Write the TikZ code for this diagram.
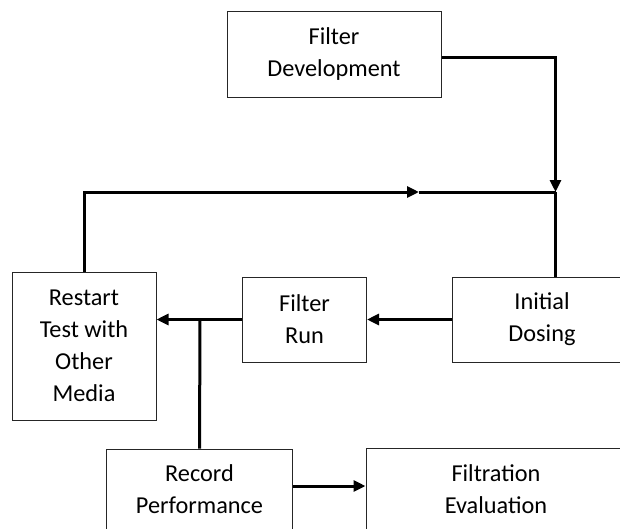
\documentclass[tikz,border=0pt]{standalone}
\usepackage{fontspec}
\setmainfont{Carlito}
\usetikzlibrary{arrows.meta}
\begin{document}
\begin{tikzpicture}[x=1pt,y=-1pt,
  box/.style={draw=black!85,line width=1pt,rectangle,inner sep=0pt,align=center,
    font=\fontsize{24.3}{32}\selectfont},
  conn/.style={line width=3pt,black},
  arr/.style={conn,-{Triangle[length=12pt,width=11pt]}}]
\useasboundingbox (0,0) rectangle (620,528);
\clip (0,0) rectangle (620,528);
\fill[white] (0,0) rectangle (620,528);
\node[box,minimum width=214,minimum height=86] (dev) at (334,54) {Filter\\Development};
\node[box,minimum width=144,minimum height=148] (restart) at (84,346) {Restart\\Test with\\Other\\Media};
\node[box,minimum width=124,minimum height=85] (run) at (304.5,319.5) {Filter\\Run};
\node[box,minimum width=180,minimum height=85] (dosing) at (542,319.5) {Initial\\Dosing};
\node[box,minimum width=186,minimum height=81] (record) at (199.5,489.5) {Record\\Performance};
\node[box,minimum width=260,minimum height=82] (eval) at (496,489) {Filtration\\Evaluation};
\coordinate (junc) at (555.5,192);
\coordinate (mid) at (419,192);
\coordinate (br) at (200,320);
\draw[arr] ([yshift=-3pt]dev.east) -| (junc);
\draw[conn] (dosing.north -| junc) -- (junc);
\draw[arr] (restart.north) |- (mid);
\draw[conn] (mid) -- (junc);
\draw[arr] (dosing.west) -- (run.east);
\draw[arr] (run.west) -- (run.west -| restart.east);
\draw[conn] (br) -- (record.north);
\draw[arr] ([yshift=3.5pt]record.east) -- ([yshift=3.5pt]record.east -| eval.west);
\end{tikzpicture}
\end{document}
